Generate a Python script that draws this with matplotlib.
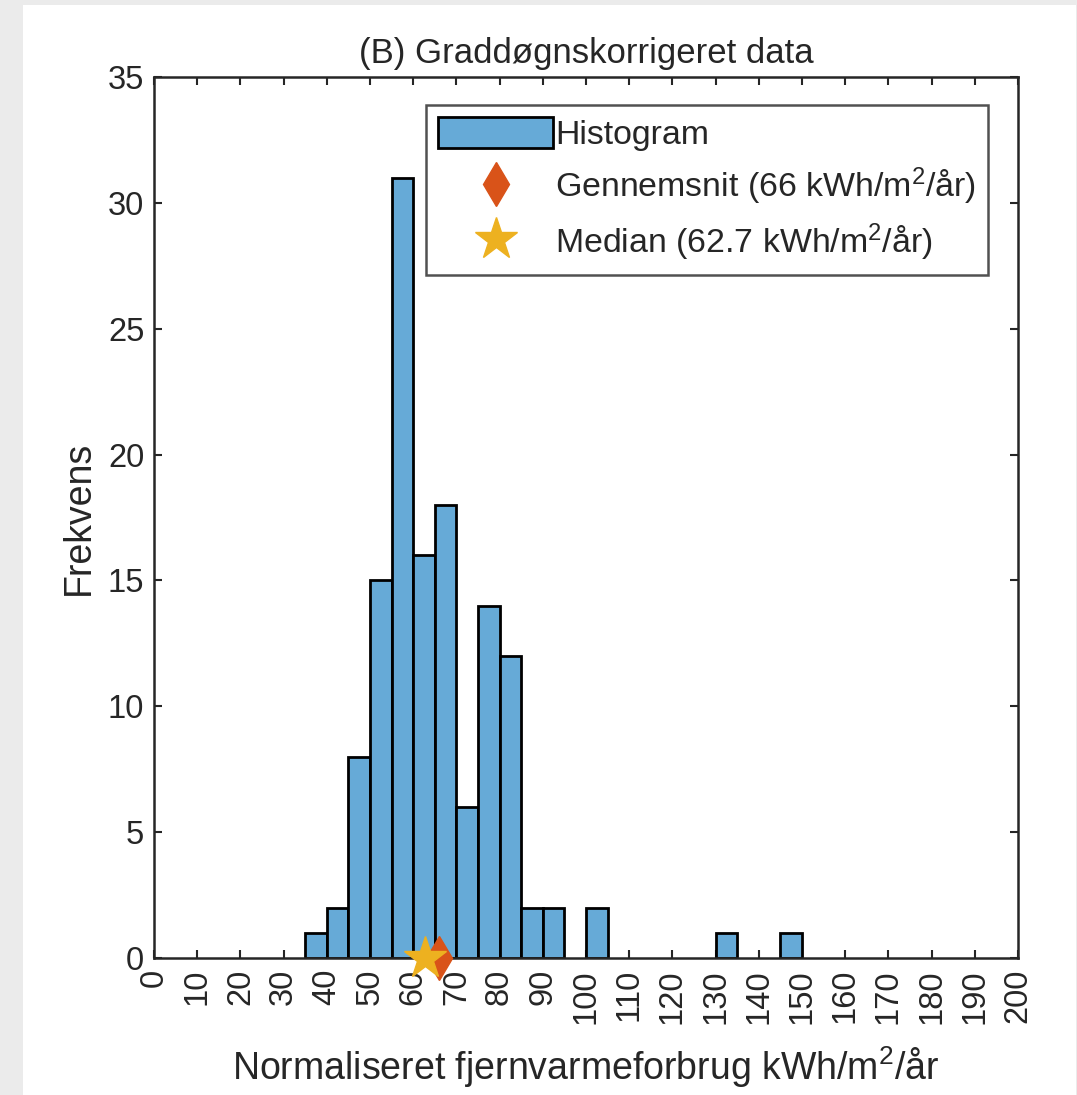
import numpy as np
import matplotlib.pyplot as plt
from matplotlib.patches import Rectangle, Patch
from matplotlib.lines import Line2D

plt.rcParams['font.family'] = ['Liberation Sans', 'DejaVu Sans']
plt.rcParams['mathtext.fontset'] = 'custom'
plt.rcParams['mathtext.rm'] = 'Liberation Sans'
plt.rcParams['mathtext.default'] = 'regular'

# histogram bins (left edges, width 5) and counts
bin_left = [35, 40, 45, 50, 55, 60, 65, 70, 75, 80, 85, 90, 95, 100, 105, 110,
            115, 120, 125, 130, 135, 140, 145]
counts = [1, 2, 8, 15, 31, 16, 18, 6, 14, 12, 2, 2, 0, 2, 0, 0,
          0, 0, 0, 1, 0, 0, 1]
bin_width = 5

mean_val = 66
median_val = 62.7

xticks = list(range(0, 201, 10))
yticks = list(range(0, 36, 5))

txt = '#262626'
bar_col = '#66aad7'
mean_col = '#d95319'
med_col = '#edb120'

fig = plt.figure(figsize=(10.77, 10.95), dpi=100, facecolor='#ebebeb')
# white panel behind the plot
fig.patches.append(Rectangle((23/1077, 0), 1053/1077, 1090/1095,
                             transform=fig.transFigure, facecolor='white',
                             edgecolor='none', zorder=-1))

ax = fig.add_axes([154/1077, 1 - 958/1095, 864/1077, 881/1095])

left = [l for l, c in zip(bin_left, counts) if c > 0]
hgt = [c for c in counts if c > 0]
ax.bar(left, hgt, width=bin_width, align='edge', color=bar_col,
       edgecolor='black', linewidth=2, zorder=2)

ax.plot([mean_val], [0], marker='d', color=mean_col, markersize=22,
        linestyle='none', clip_on=False, zorder=4)
ax.plot([median_val], [0], marker='*', color=med_col, markersize=32,
        linestyle='none', clip_on=False, zorder=4)

ax.set_xlim(0, 200)
ax.set_ylim(0, 35)
ax.set_xticks(xticks)
ax.set_yticks(yticks)
ax.set_xticklabels([str(t) for t in xticks], rotation=90)
ax.tick_params(direction='in', length=6, width=1.5, top=True, right=True,
               labelsize=23.5, colors=txt)
ax.tick_params(axis='y', pad=7)
ax.tick_params(axis='x', pad=8)
for s in ax.spines.values():
    s.set_linewidth(1.8)
    s.set_color(txt)

ax.set_title('(B) Graddøgnskorrigeret data', fontsize=25, color=txt, pad=10)
ax.set_xlabel('Normaliseret fjernvarmeforbrug kWh/m$^2$/år', fontsize=27,
              color=txt, labelpad=15)
ax.set_ylabel('Frekvens', fontsize=27, color=txt, labelpad=8)

handles = [Patch(facecolor=bar_col, edgecolor='black', linewidth=2),
           Line2D([], [], marker='d', color=mean_col, markersize=22, linestyle='none'),
           Line2D([], [], marker='*', color=med_col, markersize=32, linestyle='none')]
labels = ['Histogram',
          'Gennemsnit (66 kWh/m$^2$/år)',
          'Median (62.7 kWh/m$^2$/år)']
leg = ax.legend(handles, labels, loc='upper right', bbox_to_anchor=(0.965, 0.968),
                fontsize=24.4, frameon=True, fancybox=False, handlelength=3.4,
                handleheight=1.05, handletextpad=0.05, borderpad=0.35,
                labelspacing=0.42, borderaxespad=0)
leg.get_frame().set_edgecolor(txt)
leg.get_frame().set_linewidth(1.8)
for t in leg.get_texts():
    t.set_color(txt)

fig.savefig('out.png', dpi=100, facecolor=fig.get_facecolor())
